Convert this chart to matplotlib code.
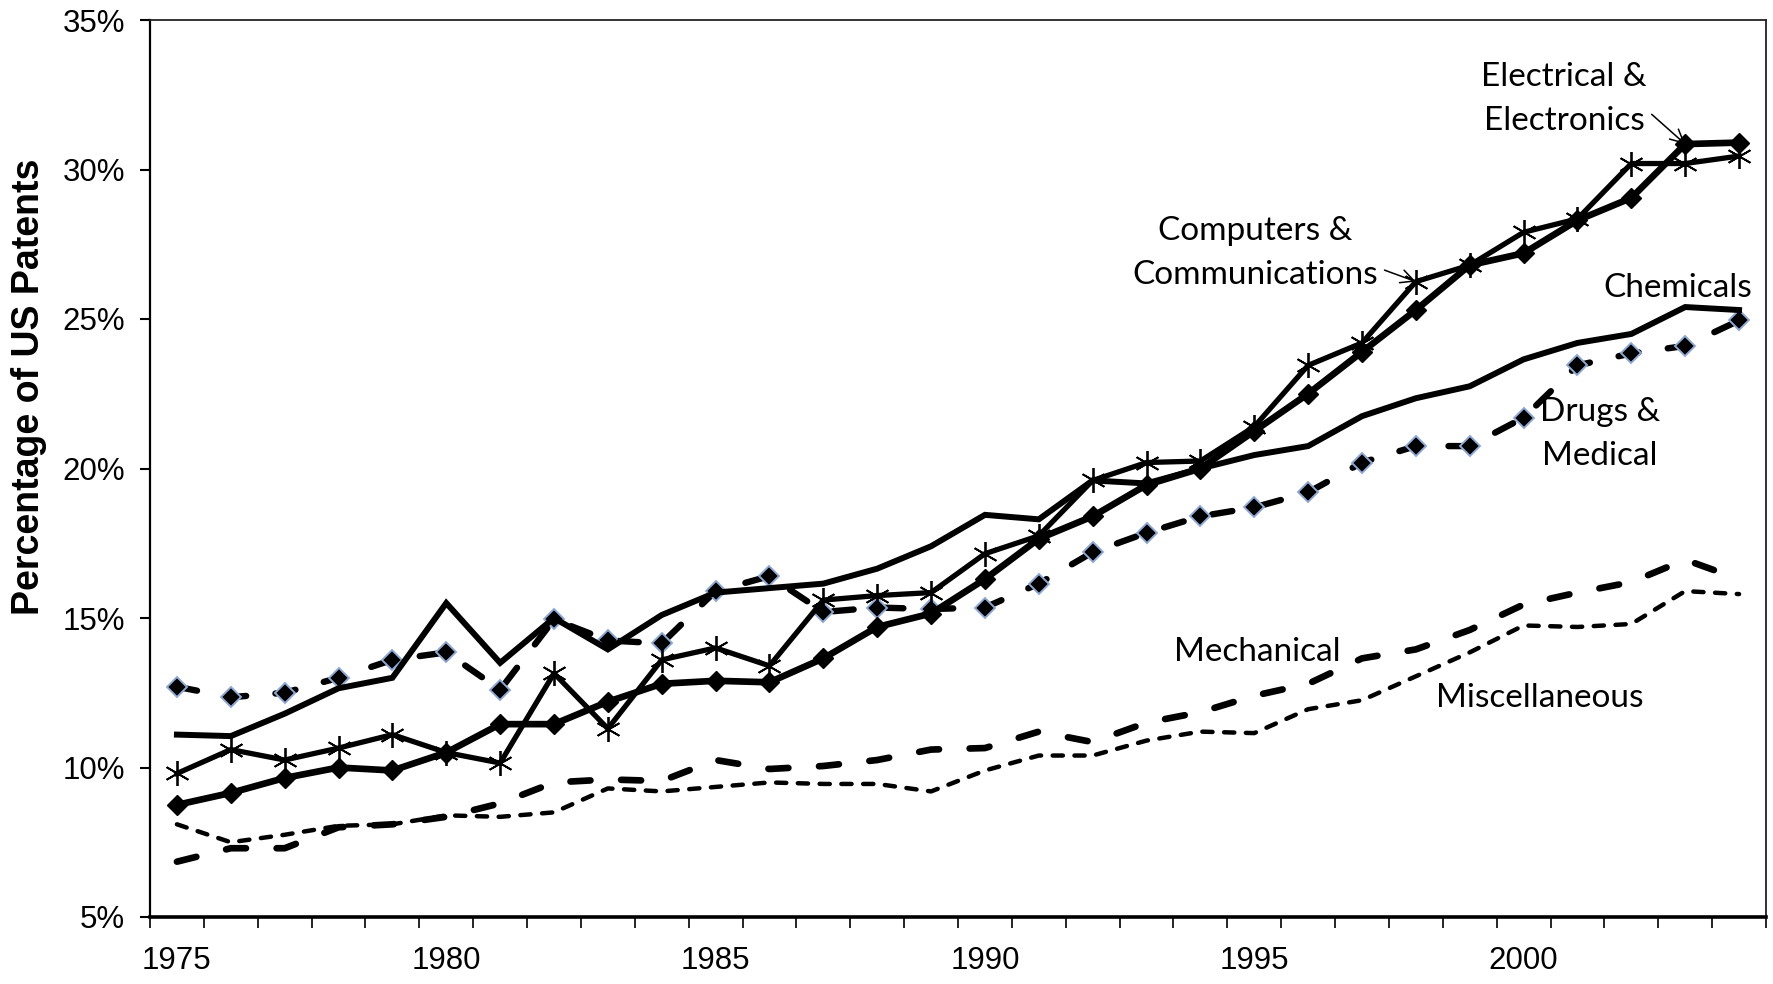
import matplotlib
matplotlib.use("Agg")
import matplotlib.pyplot as plt
import numpy as np

years = list(range(1975, 2005))

electrical = [8.75, 9.15, 9.65, 10.0, 9.9, 10.5, 11.45, 11.45, 12.2, 12.8,
              12.9, 12.85, 13.65, 14.7, 15.15, 16.3, 17.65, 18.4, 19.45, 20.0,
              21.25, 22.5, 23.9, 25.3, 26.8, 27.2, 28.3, 29.05, 30.85, 30.9]
computers = [9.8, 10.6, 10.25, 10.65, 11.1, 10.5, 10.15, 13.15, 11.3, 13.6,
             14.0, 13.4, 15.6, 15.75, 15.85, 17.15, 17.75, 19.6, 20.2, 20.25,
             21.4, 23.45, 24.2, 26.25, 26.8, 27.9, 28.35, 30.2, 30.2, 30.45]
chemicals = [11.1, 11.05, 11.8, 12.65, 13.0, 15.5, 13.5, 15.0, 13.95, 15.1,
             15.85, 16.0, 16.15, 16.65, 17.4, 18.45, 18.3, 19.6, 19.5, 20.0,
             20.45, 20.75, 21.75, 22.35, 22.75, 23.65, 24.2, 24.5, 25.4, 25.3]
drugs = [12.7, 12.35, 12.5, 13.0, 13.6, 13.85, 12.6, 14.95, 14.25, 14.15,
         15.9, 16.4, 15.2, 15.35, 15.3, 15.35, 16.15, 17.2, 17.85, 18.4,
         18.7, 19.2, 20.2, 20.75, 20.75, 21.7, 23.45, 23.85, 24.1, 24.95]
mechanical = [6.85, 7.3, 7.3, 8.0, 8.1, 8.35, 8.8, 9.5, 9.6, 9.55,
              10.25, 9.95, 10.05, 10.25, 10.6, 10.65, 11.2, 10.85, 11.5, 11.85,
              12.4, 12.8, 13.65, 13.95, 14.6, 15.45, 15.85, 16.2, 16.95, 16.3]
misc = [8.1, 7.5, 7.75, 8.05, 8.1, 8.4, 8.35, 8.5, 9.3, 9.2,
        9.35, 9.5, 9.45, 9.45, 9.2, 9.9, 10.4, 10.4, 10.9, 11.2,
        11.15, 11.95, 12.25, 13.05, 13.85, 14.75, 14.7, 14.8, 15.9, 15.8]

y_ticks = [5, 10, 15, 20, 25, 30, 35]
x_label_years = [1975, 1980, 1985, 1990, 1995, 2000]

W, H = 1773, 984
fig = plt.figure(figsize=(W / 100, H / 100), dpi=100)
ax = fig.add_axes([150 / W, 1 - 917 / H, (1766 - 150) / W, (917 - 20) / H])

ann_font = ["Lato", "DejaVu Sans"]
tick_font = ["Liberation Sans", "DejaVu Sans"]

# Misc (short dash)
ax.plot(years, misc, color="black", lw=3.2, linestyle=(0, (2.3, 2.6)),
        dash_capstyle="round", solid_capstyle="round", zorder=2)
# Mechanical (long dash)
ax.plot(years, mechanical, color="black", lw=4.8, linestyle=(0, (3.0, 4.6)),
        dash_capstyle="round", zorder=2)
# Drugs (dashed with diamonds)
ax.plot(years, drugs, color="black", lw=4.6, linestyle=(0, (3.2, 4.6)),
        dash_capstyle="round", marker="D", markersize=10.5,
        markerfacecolor="black", markeredgecolor="#8fa9d3", markeredgewidth=1.4,
        zorder=3)
# Chemicals (solid)
ax.plot(years, chemicals, color="black", lw=4.3, solid_joinstyle="miter", zorder=4)
# Computers (solid with stars)
ax.plot(years, computers, color="black", lw=3.8, marker=(6, 2, 0), markersize=18,
        markeredgewidth=1.3, markeredgecolor="black", zorder=5)
# Electrical (solid with diamonds)
ax.plot(years, electrical, color="black", lw=4.8, marker="D", markersize=10.5,
        markerfacecolor="black", markeredgecolor="black", zorder=5)

ax.set_xlim(1974.5, 2004.5)
ax.set_ylim(5, 35)

ax.set_yticks(y_ticks)
ax.set_yticklabels([f"{v}%" for v in y_ticks], fontsize=22.5, family=tick_font)
ax.tick_params(axis="y", direction="out", length=7, width=1.5, pad=11)

ax.set_xticks(x_label_years)
ax.set_xticklabels([str(v) for v in x_label_years], fontsize=22.5, family=tick_font)
ax.set_xticks(np.arange(1974.5, 2005, 1), minor=True)
ax.tick_params(axis="x", which="major", length=0, pad=21)
ax.tick_params(axis="x", which="minor", direction="out", length=8, width=1.2)

for side in ["top", "right"]:
    ax.spines[side].set_linewidth(1.3)
    ax.spines[side].set_color("#222222")
ax.spines["left"].set_linewidth(1.6)
ax.spines["bottom"].set_linewidth(2.6)

fig.text(29 / W, 1 - 387 / H, "Percentage of US Patents", rotation=90,
         ha="center", va="center", fontsize=27, fontweight="bold",
         family=["Liberation Sans", "DejaVu Sans"])

# Annotations
ann_size = 24
ls = 1.55
ax.annotate("Electrical &\nElectronics", xy=(2003, electrical[2003 - 1975]),
            xytext=(1564 / W, 1 - 99 / H), textcoords="figure fraction",
            ha="center", va="center", fontsize=ann_size, family=ann_font,
            linespacing=ls, zorder=6,
            arrowprops=dict(arrowstyle="->", lw=1.1, color="black",
                            shrinkA=2, shrinkB=0, relpos=(1.0, 0.35)))
ax.annotate("Computers &\nCommunications", xy=(1998, computers[1998 - 1975]),
            xytext=(1255 / W, 1 - 253 / H), textcoords="figure fraction",
            ha="center", va="center", fontsize=ann_size, family=ann_font,
            linespacing=ls, zorder=6,
            arrowprops=dict(arrowstyle="->", lw=1.1, color="black",
                            shrinkA=3, shrinkB=0, relpos=(1.0, 0.3)))
fig.text(1678 / W, 1 - 288 / H, "Chemicals", ha="center", va="center",
         fontsize=ann_size, family=ann_font)
fig.text(1600 / W, 1 - 434 / H, "Drugs &\nMedical", ha="center", va="center",
         fontsize=ann_size, family=ann_font, linespacing=ls)
fig.text(1257 / W, 1 - 652 / H, "Mechanical", ha="center", va="center",
         fontsize=ann_size, family=ann_font)
fig.text(1540 / W, 1 - 698 / H, "Miscellaneous", ha="center", va="center",
         fontsize=ann_size, family=ann_font)

fig.savefig("out.png", dpi=100)
